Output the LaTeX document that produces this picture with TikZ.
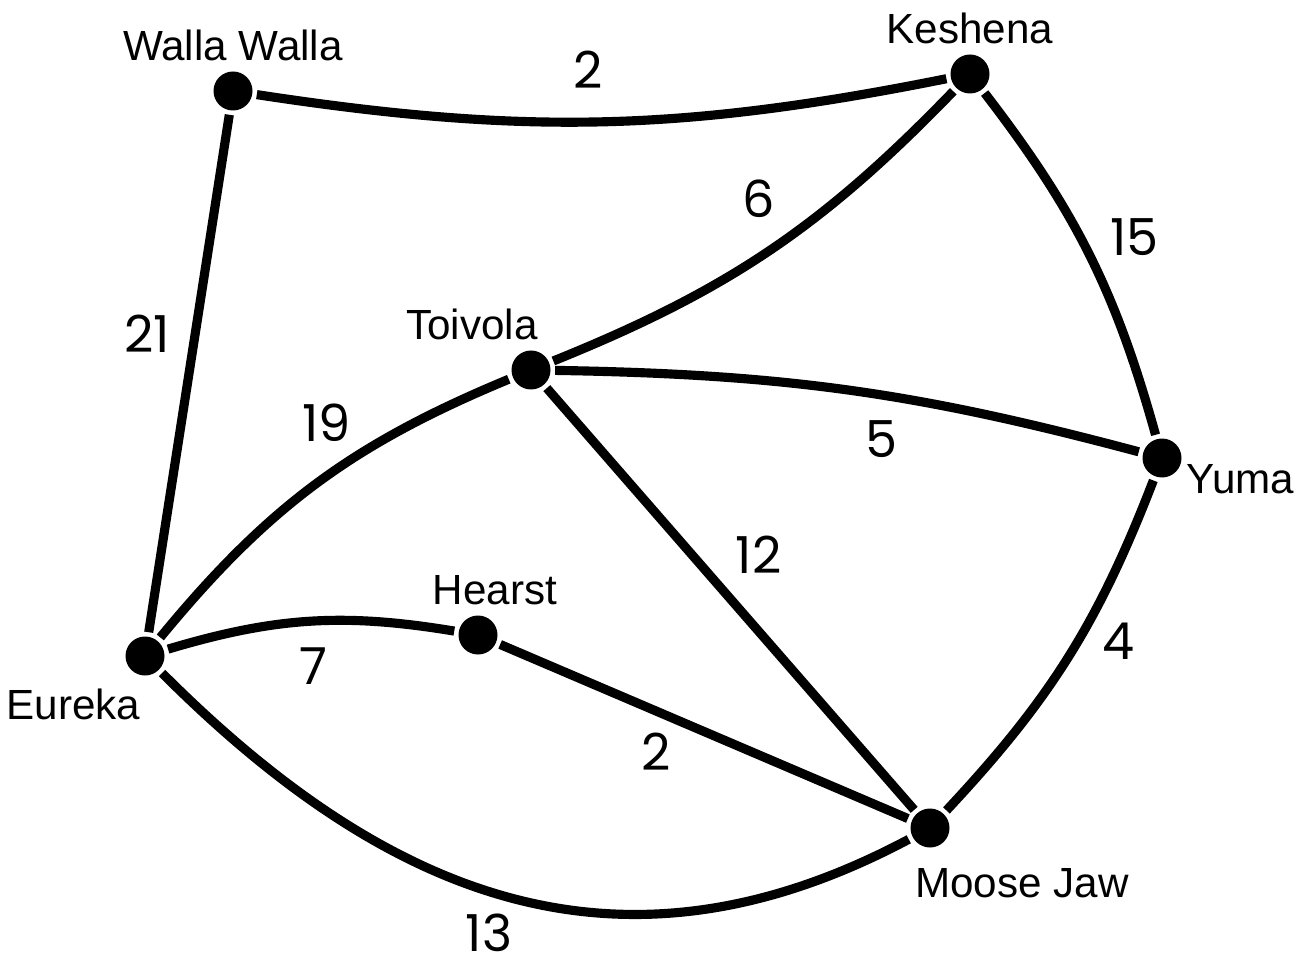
\documentclass[tikz,border=0pt]{standalone}
\usepackage{fontspec}
\setmainfont{Liberation Sans}
\newfontfamily\numfont{Poppins}
\usepackage{tikz}

\begin{document}
\begin{tikzpicture}[line width=2.6pt,
    town/.style = {circle, fill, inner sep=0pt, minimum size=3.9mm},
    every label/.style = {font=\fontsize{12}{14}\selectfont, inner sep=1pt},
    label distance=-0.5pt,
    wt/.style = {font=\numfont\fontsize{14.5}{17}\selectfont, inner sep=0pt}
    ]
    \useasboundingbox (0,0) rectangle (13.08,9.55);

    \node[town, label={above:Walla Walla}] (W) at (2.33,8.64) {};
    \node[town, label={above:Keshena}] (K) at (9.70,8.81) {};
    \node[town, label={[xshift=-5.9mm]above:Toivola}] (T) at (5.31,5.85) {};
    \node[town, label={[xshift=-0.6mm, yshift=-2.1mm]right:Yuma}] (Y) at (11.62,4.97) {};
    \node[town, label={[xshift=1.7mm]above:Hearst}] (H) at (4.78,3.20) {};
    \node[town, label={[xshift=1.9mm, yshift=-0.9mm]below left:Eureka}] (E) at (1.45,2.99) {};
    \node[town, label={[xshift=9.2mm, yshift=-1mm]below:Moose Jaw}] (M) at (9.30,1.27) {};

    \draw (W) to[bend right=10] node[wt, xshift=-1.4mm, yshift=5.2mm] {2} (K);
    \draw (W) -- node[wt, xshift=-4.2mm, yshift=4mm] {21} (E);
    \draw (T) to[bend right=12] node[wt, xshift=-1.1mm, yshift=5.2mm] {6} (K);
    \draw (K) to[bend left=11] node[wt, xshift=4.5mm, yshift=1.7mm] {15} (Y);
    \draw (E) to[bend left=14] node[wt, xshift=1mm, yshift=6.1mm] {19} (T);
    \draw (T) to[bend left=7] node[wt, xshift=3.2mm, yshift=-4.9mm] {5} (Y);
    \draw (T) -- node[wt, xshift=2.8mm, yshift=4.4mm] {12} (M);
    \draw (M) to[bend right=11] node[wt, xshift=5mm, yshift=1.6mm] {4} (Y);
    \draw (E) to[bend left=13] node[wt, xshift=0.3mm, yshift=-4.5mm] {7} (H);
    \draw (H) -- node[wt, xshift=-4.8mm, yshift=-2mm] {2} (M);
    \draw (E) to[out=-45, in=-152, looseness=1.08] node[wt, xshift=-2.5mm, yshift=-3.4mm] {13} (M);
\end{tikzpicture}
\end{document}
